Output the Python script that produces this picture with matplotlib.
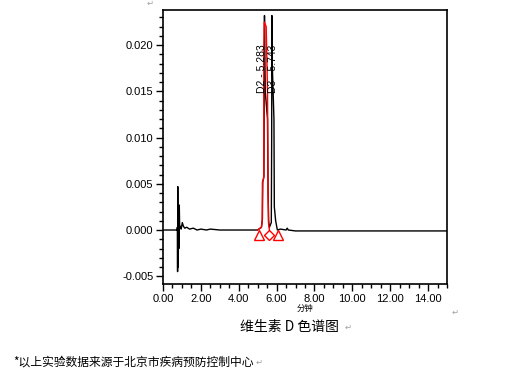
import matplotlib
matplotlib.use("Agg")
import matplotlib.pyplot as plt
from matplotlib.ticker import MultipleLocator, FormatStrFormatter

plt.rcParams['font.family'] = ['Liberation Sans', 'Noto Sans CJK SC', 'DejaVu Sans']

# Chromatogram trace (minutes, AU)
trace_t = [0.00, 0.74, 0.76, 0.77, 0.78, 0.80, 0.82, 0.84, 0.86, 0.88, 0.92, 0.96,
           1.02, 1.08, 1.15, 1.25, 1.40, 1.60, 1.80, 2.00, 2.30, 2.50, 3.00, 4.00,
           5.00, 5.20, 5.25, 5.27, 5.33, 5.36, 5.40, 5.52, 5.55, 5.58, 5.62,
           5.72, 5.74, 5.75, 5.77, 5.86, 5.88, 5.95, 6.04, 6.20, 6.50, 6.56,
           6.62, 7.00, 8.00, 9.00, 10.00, 11.00, 12.00, 13.00, 14.00, 15.00]
trace_y = [0.0000, 0.0000, 0.0003, -0.0045, 0.0047, -0.0040, 0.0008, -0.0020,
           0.0027, 0.0002, 0.0004, 0.0001, 0.0008, 0.0004, 0.0002, 0.0003,
           0.0001, 0.0002, 0.0000, 0.0001, 0.0000, 0.0001, 0.0000, 0.0000,
           0.0000, 0.0003, 0.0012, 0.0052, 0.0058, 0.0232, 0.0150, 0.0120,
           0.0040, 0.0010, 0.0003, 0.0008, 0.0100, 0.0232, 0.0180, 0.0120,
           0.0025, 0.0010, 0.0000, 0.0001, 0.0000, 0.0002, 0.0000, -0.0001,
           -0.0001, -0.0001, -0.0001, -0.0001, -0.0001, -0.0001, -0.0001, -0.0001]

# Integrated D2 peak outline (red)
red_t = [5.00, 5.20, 5.24, 5.25, 5.32, 5.33, 5.35, 5.45, 5.52, 5.55, 5.57, 5.62]
red_y = [0.0000, 0.0003, 0.0010, 0.0052, 0.0056, 0.0200, 0.0225, 0.0220,
         0.0150, 0.0040, 0.0008, 0.0000]

# Peak start / apex-split / end markers
tri_t = [5.05, 6.10]
tri_y = [-0.00055, -0.00055]
dia_t = [5.58]
dia_y = [-0.00055]

peak_names = ["D2 - 5.283", "D3 - 5.743"]
peak_label_t = [5.25, 5.79]
label_y = 0.0148

fig = plt.figure(figsize=(5.2, 3.77), dpi=100)
ax = fig.add_axes([163/520, 1-284/377, (447-163)/520, (284-10)/377])

ax.plot(trace_t, trace_y, color='black', lw=1.0)
ax.plot(red_t, red_y, color='red', lw=1.0)
ax.plot(tri_t, tri_y, ls='none', marker='^', ms=7, mfc='none', mec='red', mew=1.0)
ax.plot(dia_t, dia_y, ls='none', marker='D', ms=5, mfc='none', mec='red', mew=1.0)

for name, t in zip(peak_names, peak_label_t):
    ax.text(t, label_y, name, rotation=90, ha='center', va='bottom',
            fontsize=7.5, color='black')

ax.set_xlim(0, 15)
ax.set_ylim(-0.00584, 0.0238)
ax.xaxis.set_major_locator(MultipleLocator(2))
ax.xaxis.set_minor_locator(MultipleLocator(0.5))
ax.yaxis.set_major_locator(MultipleLocator(0.005))
ax.yaxis.set_minor_locator(MultipleLocator(0.001))
ax.xaxis.set_major_formatter(FormatStrFormatter('%.2f'))
ax.yaxis.set_major_formatter(FormatStrFormatter('%.3f'))
ax.tick_params(which='major', direction='out', length=5, width=1, labelsize=8, pad=2)
ax.tick_params(which='minor', direction='out', length=3, width=1)
for s in ax.spines.values():
    s.set_linewidth(1.2)

ax.set_xlabel("分钟", fontsize=6, labelpad=1)

fig.text(290/520, 1-327/377, "维生素 D 色谱图", ha='center', va='center', fontsize=10,
         family=['Noto Sans CJK SC', 'DejaVu Sans'])
fig.text(13/520, 1-362/377, "*以上实验数据来源于北京市疾病预防控制中心", ha='left', va='center',
         fontsize=8.5, family=['Noto Sans CJK SC', 'DejaVu Sans'])

gray = '#a0a0a0'
for (px, py) in [(150, 3), (455, 312), (348, 327), (259, 362)]:
    fig.text(px/520, 1-py/377, "↵", ha='center', va='center', fontsize=6,
             color=gray, family=['DejaVu Sans'])

fig.savefig("out.png", dpi=100)
